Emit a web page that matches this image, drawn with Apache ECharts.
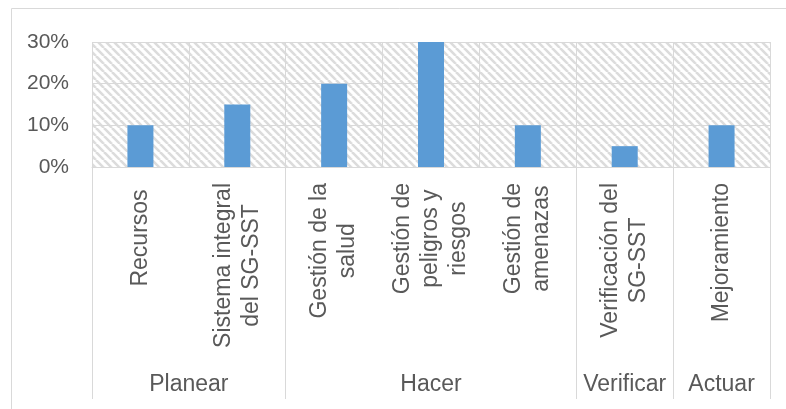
<!DOCTYPE html>
<html>
<head>
<meta charset="utf-8">
<script src="https://cdn.jsdelivr.net/npm/echarts@6/dist/echarts.min.js"></script>
<style>
  html, body { margin: 0; padding: 0; background: #fff; }
  #chart { width: 786px; height: 409px; }
</style>
</head>
<body>
<div id="chart"></div>
<script>
// categorias (primer nivel) y grupos PHVA (segundo nivel)
var categorias = ['Recursos ', 'Sistema integral\ndel SG-SST', 'Gestión de la\nsalud',
  'Gestión de\npeligros y\nriesgos', 'Gestión de\namenazas', 'Verificación del\nSG-SST', 'Mejoramiento'];
var valores = [0.10, 0.15, 0.20, 0.30, 0.10, 0.05, 0.10];
var grupos = ['Planear', 'Hacer', 'Verificar', 'Actuar'];
var tamGrupos = [2, 3, 1, 1];
var ticksY = [0, 0.1, 0.2, 0.3];

var gris = '#595959';
var lineaGris = '#d9d9d9';

// limites y centros de cada grupo sobre el eje
var limites = [0];
var centros = [];
tamGrupos.forEach(function (n, i) {
  var ini = limites[limites.length - 1];
  limites.push(ini + n);
  centros.push(ini + n / 2);
});

// trama de fondo (diagonal ancha hacia abajo)
function trama() {
  var c = document.createElement('canvas');
  c.width = 8; c.height = 8;
  var ctx = c.getContext('2d');
  ctx.fillStyle = '#fff';
  ctx.fillRect(0, 0, 8, 8);
  ctx.strokeStyle = '#dcdcdc';
  ctx.lineWidth = 2.6;
  [-8, 0, 8].forEach(function (o) {
    ctx.beginPath();
    ctx.moveTo(o, 0);
    ctx.lineTo(o + 8, 8);
    ctx.stroke();
  });
  return c;
}

var myChart = echarts.init(document.getElementById('chart'));
var option = {
  animation: false,
  textStyle: { fontFamily: 'Liberation Sans, Arial, sans-serif' },
  graphic: [{
    type: 'rect',
    shape: { x: 11.5, y: 8.5, width: 800, height: 420 },
    style: { fill: 'none', stroke: lineaGris, lineWidth: 1 },
    silent: true
  }],
  grid: {
    left: 92, right: 16, top: 42, bottom: 242,
    show: true,
    borderWidth: 0,
    backgroundColor: { image: trama(), repeat: 'repeat' }
  },
  yAxis: {
    type: 'value',
    min: ticksY[0],
    max: ticksY[ticksY.length - 1],
    interval: 0.1,
    axisLine: { show: false },
    axisTick: { show: false },
    axisLabel: {
      color: gris,
      fontSize: 21,
      margin: 23,
      formatter: function (v) { return Math.round(v * 100) + '%'; }
    },
    splitLine: { lineStyle: { color: lineaGris, width: 1 } }
  },
  xAxis: [{
    type: 'category',
    data: categorias,
    axisLine: { show: true, lineStyle: { color: lineaGris, width: 1 } },
    axisTick: { show: false },
    splitLine: { show: true, interval: 0, lineStyle: { color: lineaGris, width: 1 } },
    axisLabel: {
      interval: 0,
      rotate: 90,
      margin: 16,
      formatter: function (v) {
        return v.split('\n').map(function (s) { return '{c|' + s + '}'; }).join('\n');
      },
      rich: {
        c: { align: 'center', fontSize: 23, lineHeight: 28, color: gris }
      }
    }
  }, {
    type: 'value',
    position: 'bottom',
    min: 0,
    max: categorias.length,
    axisLine: { show: false },
    splitLine: { show: false },
    axisTick: {
      show: true,
      customValues: limites,
      length: 232,
      lineStyle: { color: lineaGris, width: 1 }
    },
    axisLabel: {
      customValues: centros,
      margin: 206,
      fontSize: 23,
      color: gris,
      formatter: function (v) {
        var i = centros.indexOf(v);
        return i >= 0 ? grupos[i] : '';
      }
    }
  }],
  series: [{
    type: 'bar',
    xAxisIndex: 0,
    barWidth: 26,
    itemStyle: { color: '#5B9BD5' },
    data: valores
  }]
};
myChart.setOption(option);
</script>
</body>
</html>
